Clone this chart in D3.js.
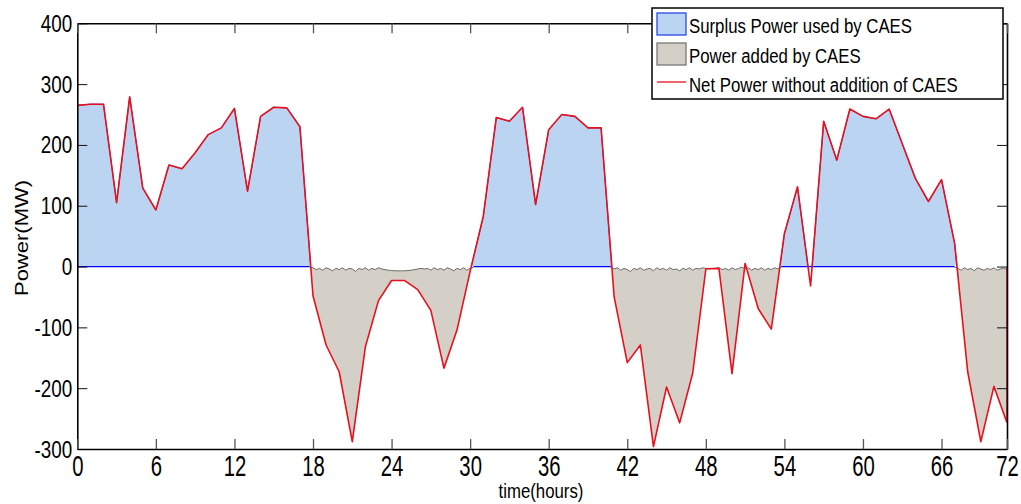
<!DOCTYPE html>
<html>
<head>
<meta charset="utf-8">
<script src="https://cdn.jsdelivr.net/npm/d3@7"></script>
<style>
  body { margin: 0; background: #fff; }
  svg text { font-family: "Liberation Sans", Arial, sans-serif; fill: #000; }
</style>
</head>
<body>
<script>
// net power (MW) for each hour index 0..71
var netPower = [
  265, 267, 267, 105, 279, 129, 93, 167, 161, 187,
  217, 228, 260, 124, 247, 262, 261, 230, -48, -129,
  -173, -288, -132, -56, -23, -23, -38, -72, -167, -104,
  -8, 82, 245, 239, 262, 102, 225, 250, 247, 228,
  228, -50, -158, -129, -296, -198, -257, -175, -4, -3,
  -176, 5, -69, -103, 54, 131, -32, 239, 175, 259,
  247, 243, 259, 202, 145, 107, 143, 38, -173, -288,
  -197, -257
];

// top edge of "power added" patches, sampled every quarter hour
var wiggleStarts = [17.75, 40.75, 67];
var wiggleA = [
  -1, -2, -5, -3, -6, -2, -4, -7, -3,
  -5, -2, -6, -3, -4, -8, -3, -5,
  -2, -6, -3, -5, -2, -4, -5, -6,
  -6.5, -7, -7, -7, -7, -6.5, -6, -5,
  -4, -3, -4, -3, -6, -2, -5, -3,
  -6, -2, -4, -7, -3, -5, -2, -6,
  -3, -1
];
var wiggleB = [
  -1, -4, -2, -6, -3, -5, -8, -3,
  -5, -2, -6, -4, -3, -7, -2, -5,
  -3, -6, -2, -5, -4, -7, -3, -5,
  -2, -6, -3, -4, -2, -3, -3, -3,
  -3, -2, -5, -3, -6, -2, -5, -3,
  -1, -4, -2, -6, -3, -5, -2, -6,
  -3, -5, -2, -4, -1
];
var wiggleC = [-1, -3, -6, -2, -5, -3, -7, -2, -4, -6, -3, -5, -2, -6, -4, -3, -5];

var yTicks = [-300, -200, -100, 0, 100, 200, 300, 400];
var yTickLabels = ["-300", "-200", "-100", "0", "100", "200", "300", "400"];
var xTickPos = [0, 6, 12, 18, 24, 30, 36, 42, 48, 54, 60, 66, 71];
var xTickLabels = ["0", "6", "12", "18", "24", "30", "36", "42", "48", "54", "60", "66", "72"];
var legendLabels = ["Surplus Power used by CAES", "Power added by CAES", "Net Power without addition of CAES"];

var W = 1021, H = 504;
var x = d3.scaleLinear().domain([0, 71]).range([77.3, 1007]);
var y = d3.scaleLinear().domain([-300, 400]).range([449, 23.3]);
var step = 0.25;

var svg = d3.select("body").append("svg")
  .attr("width", W)
  .attr("height", H);

var defs = svg.append("defs");
defs.append("clipPath").attr("id", "plot")
  .append("rect").attr("x", x(0)).attr("y", y(400)).attr("width", x(71) - x(0)).attr("height", y(-300) - y(400));
defs.append("clipPath").attr("id", "above")
  .append("rect").attr("x", x(0)).attr("y", y(400)).attr("width", x(71) - x(0)).attr("height", y(0) - y(400) + 0.5);

var wiggles = [wiggleA, wiggleB, wiggleC];
var below = defs.append("clipPath").attr("id", "below");
wiggles.forEach(function(w, k) {
  var s = wiggleStarts[k], e = s + (w.length - 1) * step;
  below.append("rect")
    .attr("x", x(s)).attr("y", y(0))
    .attr("width", x(e) - x(s)).attr("height", y(-300) - y(0));
});

var area = d3.area()
  .x((d, i) => x(i))
  .y0(y(0))
  .y1(d => y(d));

// surplus (blue) part
svg.append("path")
  .attr("d", area(netPower))
  .attr("fill", "#bad4f2")
  .attr("stroke", "#2a48e8")
  .attr("stroke-width", 1)
  .attr("clip-path", "url(#above)");

svg.append("line")
  .attr("x1", x(0)).attr("x2", x(71))
  .attr("y1", y(0)).attr("y2", y(0))
  .attr("stroke", "#0000ff")
  .attr("stroke-width", 1.2);

// added (grey) part
svg.append("path")
  .attr("d", area(netPower))
  .attr("fill", "#d4d0c8")
  .attr("clip-path", "url(#below)");

wiggles.forEach(function(w, k) {
  var s = wiggleStarts[k];
  var cover = d3.area()
    .x((d, i) => x(s + i * step))
    .y0(y(0) - 1)
    .y1(d => y(d));
  var edge = d3.line()
    .x((d, i) => x(s + i * step))
    .y(d => y(d));
  svg.append("path")
    .attr("d", cover(w))
    .attr("fill", "#fff")
    .attr("clip-path", "url(#plot)");
  svg.append("path")
    .attr("d", edge(w))
    .attr("fill", "none")
    .attr("stroke", "#6b6b6b")
    .attr("stroke-width", 1)
    .attr("clip-path", "url(#plot)");
});

// net power line
var line = d3.line().x((d, i) => x(i)).y(d => y(d));
svg.append("path")
  .attr("d", line(netPower))
  .attr("fill", "none")
  .attr("stroke", "#e8101c")
  .attr("stroke-width", 1.6)
  .attr("stroke-linejoin", "round");
svg.append("line")
  .attr("x1", x(71)).attr("x2", x(71))
  .attr("y1", y(0)).attr("y2", y(netPower[71]))
  .attr("stroke", "#e8101c")
  .attr("stroke-width", 1.6);

// axes, ticks pointing inward
var gl = svg.append("g").attr("transform", "translate(" + x(0) + ",0)")
  .call(d3.axisLeft(y).tickValues(yTicks).tickSize(-10).tickSizeOuter(0).tickPadding(5)
    .tickFormat((d, i) => yTickLabels[i]));
var gr = svg.append("g").attr("transform", "translate(" + x(71) + ",0)")
  .call(d3.axisRight(y).tickValues(yTicks).tickSize(-10).tickSizeOuter(0).tickFormat(() => ""));
var gb = svg.append("g").attr("transform", "translate(0," + y(-300) + ")")
  .call(d3.axisBottom(x).tickValues(xTickPos).tickSize(-10).tickSizeOuter(0)
    .tickFormat((d, i) => xTickLabels[i]));
var gt = svg.append("g").attr("transform", "translate(0," + y(400) + ")")
  .call(d3.axisTop(x).tickValues(xTickPos).tickSize(-10).tickSizeOuter(0).tickFormat(() => ""));

[gl, gr, gb, gt].forEach(function(g) {
  g.select(".domain").attr("stroke", "#000").attr("stroke-width", 1.6);
});
gl.selectAll(".tick line").attr("stroke", "#111");
gr.selectAll(".tick line").attr("stroke", "#111");
gb.selectAll(".tick line").attr("stroke", "#555").attr("stroke-width", 1.3);
gt.selectAll(".tick line").attr("stroke", "#555").attr("stroke-width", 1.3);

gl.selectAll(".tick text")
  .attr("x", 0).attr("dy", "0.35em")
  .attr("transform", "translate(-5,0) scale(0.82,1)")
  .style("font-size", "23px");
gb.selectAll(".tick text")
  .attr("y", 0).attr("dy", null)
  .attr("transform", "translate(0,27) scale(0.7,1)")
  .style("font-size", "29px");

// axis titles
svg.append("text")
  .attr("transform", "translate(28,238) rotate(-90) scale(1,0.82)")
  .attr("text-anchor", "middle")
  .style("font-size", "22px")
  .text("Power(MW)");
svg.append("text")
  .attr("transform", "translate(541,498) scale(0.8,1)")
  .attr("text-anchor", "middle")
  .style("font-size", "21px")
  .text("time(hours)");

// legend
var lg = svg.append("g");
lg.append("rect")
  .attr("x", 652).attr("y", 8).attr("width", 351).attr("height", 91)
  .attr("fill", "#fff").attr("stroke", "#000").attr("stroke-width", 1.5);
lg.append("rect")
  .attr("x", 657).attr("y", 13).attr("width", 29).attr("height", 22)
  .attr("fill", "#bad4f2").attr("stroke", "#2a48e8").attr("stroke-width", 1.3);
lg.append("rect")
  .attr("x", 657).attr("y", 43).attr("width", 29).attr("height", 22)
  .attr("fill", "#d4d0c8").attr("stroke", "#777").attr("stroke-width", 1.3);
lg.append("line")
  .attr("x1", 657).attr("x2", 686).attr("y1", 82).attr("y2", 82)
  .attr("stroke", "#e8101c").attr("stroke-width", 1.3);
var baselines = [33, 63, 92];
legendLabels.forEach(function(t, i) {
  lg.append("text")
    .attr("transform", "translate(689," + baselines[i] + ") scale(0.8,1)")
    .style("font-size", "21px")
    .text(t);
});
</script>
</body>
</html>
